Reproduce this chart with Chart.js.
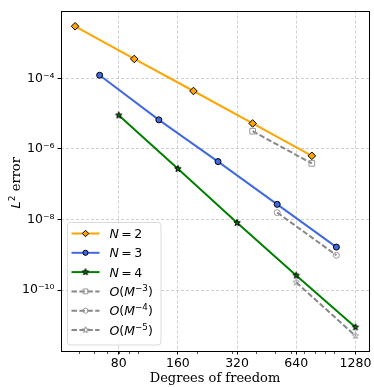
<!DOCTYPE html>
<html>
<head>
<meta charset="utf-8">
<script src="https://cdn.jsdelivr.net/npm/chart.js@4.4.0/dist/chart.umd.min.js"></script>
<style>
  html, body { margin: 0; padding: 0; background: #fff; }
  canvas { display: block; }
</style>
</head>
<body>
<canvas id="chart-err" width="374" height="387"></canvas>
<script>
  // values
  var dofN2 = [48, 96, 192, 384, 768];
  var errN2 = [3.0e-3, 3.56e-4, 4.4e-5, 5.3e-6, 6.4e-7];
  var dofN3 = [64, 128, 256, 512, 1024];
  var errN3 = [1.23e-4, 6.7e-6, 4.4e-7, 2.7e-8, 1.66e-9];
  var dofN4 = [80, 160, 320, 640, 1280];
  var errN4 = [9.0e-6, 2.75e-7, 8.1e-9, 2.6e-10, 8.9e-12];
  var dofRef3 = [384, 768];
  var errRef3 = [3.19e-6, 3.9e-7];
  var dofRef4 = [512, 1024];
  var errRef4 = [1.58e-8, 9.75e-10];
  var dofRef5 = [640, 1280];
  var errRef5 = [1.66e-10, 5.1e-12];

  var xTicks = [80, 160, 320, 640, 1280];
  var xMinorTicks = [50, 60, 70, 80, 90, 100, 200, 300, 400, 500, 600, 700, 800, 900, 1000];
  var yTicks = [1e-4, 1e-6, 1e-8, 1e-10];
  var yTickLabels = ['10\u207b\u2074', '10\u207b\u2076', '10\u207b\u2078', '10\u207b\u00b9\u2070'];

  // legend labels as math-like pieces: t = text, it = italic, sup = superscript
  var legendLabels = [
    [{t: 'N', it: true}, {t: '\u2009=\u20092'}],
    [{t: 'N', it: true}, {t: '\u2009=\u20093'}],
    [{t: 'N', it: true}, {t: '\u2009=\u20094'}],
    [{t: 'O', it: true}, {t: '('}, {t: 'M', it: true}, {t: '\u22123', sup: true}, {t: ')'}],
    [{t: 'O', it: true}, {t: '('}, {t: 'M', it: true}, {t: '\u22124', sup: true}, {t: ')'}],
    [{t: 'O', it: true}, {t: '('}, {t: 'M', it: true}, {t: '\u22125', sup: true}, {t: ')'}]
  ];

  function pts(xs, ys) {
    return xs.map(function (x, i) { return {x: x, y: ys[i]}; });
  }

  function makeStar(face, edge, r) {
    var c = document.createElement('canvas');
    var s = Math.ceil(2 * r + 3);
    c.width = s; c.height = s;
    var g = c.getContext('2d');
    g.beginPath();
    for (var k = 0; k < 10; k++) {
      var rr = k % 2 ? r * 0.42 : r;
      var a = -Math.PI / 2 + k * Math.PI / 5;
      g.lineTo(s / 2 + rr * Math.cos(a), s / 2 + rr * Math.sin(a));
    }
    g.closePath();
    g.fillStyle = face; g.fill();
    g.lineWidth = 1; g.strokeStyle = edge; g.stroke();
    return c;
  }

  var starGreen = makeStar('green', '#000', 3.4);
  var starGray = makeStar('rgba(0,0,0,0)', '#999', 3.4);

  function mainSet(label, data, color, style, r, order) {
    return {
      label: label, data: data, borderColor: color, borderWidth: 2, order: order,
      pointStyle: style, pointRadius: r, pointBackgroundColor: color,
      pointBorderColor: '#000', pointBorderWidth: 1, fill: false, tension: 0
    };
  }
  function refSet(label, data, style, r, order) {
    return {
      label: label, data: data, borderColor: '#888888', borderWidth: 2, borderDash: [5.5, 2.4], order: order,
      pointStyle: style, pointRadius: r, pointBackgroundColor: 'rgba(0,0,0,0)',
      pointBorderColor: '#999999', pointBorderWidth: 1, fill: false, tension: 0
    };
  }

  function drawRich(ctx, segs, x, y, size) {
    ctx.textBaseline = 'alphabetic';
    ctx.textAlign = 'left';
    ctx.fillStyle = '#000';
    segs.forEach(function (s) {
      var fs = s.sup ? size * 0.7 : size;
      ctx.font = (s.it ? 'italic ' : '') + fs + 'px "DejaVu Sans"';
      ctx.fillText(s.t, x, y - (s.sup ? size * 0.4 : 0));
      x += ctx.measureText(s.t).width;
    });
  }

  var extras = {
    id: 'extras',
    afterDraw: function (chart) {
      var ctx = chart.ctx;
      var ca = chart.chartArea;
      var xs = chart.scales.x;
      ctx.save();
      // axes frame
      ctx.strokeStyle = '#000';
      ctx.lineWidth = 1;
      ctx.strokeRect(Math.round(ca.left) + 0.5, Math.round(ca.top) + 0.5,
        Math.round(ca.right) - Math.round(ca.left), Math.round(ca.bottom) - Math.round(ca.top));
      // minor x ticks
      ctx.lineWidth = 0.7;
      xMinorTicks.forEach(function (v) {
        var px = Math.round(xs.getPixelForValue(v)) + 0.5;
        ctx.beginPath();
        ctx.moveTo(px, ca.bottom + 1);
        ctx.lineTo(px, ca.bottom + 3);
        ctx.stroke();
      });
      // legend
      var x0 = 67.5, y0 = 222.5;
      ctx.beginPath();
      ctx.roundRect(x0, y0, 93.5, 122.5, 3);
      ctx.fillStyle = 'rgba(255,255,255,0.85)';
      ctx.fill();
      ctx.strokeStyle = '#cccccc';
      ctx.stroke();
      chart.data.datasets.forEach(function (ds, i) {
        var y = 233.5 + i * 19.3;
        ctx.beginPath();
        ctx.setLineDash(ds.borderDash || []);
        ctx.strokeStyle = ds.borderColor;
        ctx.lineWidth = ds.borderWidth;
        ctx.moveTo(71.5, y);
        ctx.lineTo(99.5, y);
        ctx.stroke();
        ctx.setLineDash([]);
        ctx.fillStyle = ds.pointBackgroundColor;
        ctx.strokeStyle = ds.pointBorderColor;
        ctx.lineWidth = ds.pointBorderWidth;
        Chart.helpers.drawPoint(ctx, {pointStyle: ds.pointStyle, radius: ds.pointRadius * 0.85,
          rotation: 0, borderWidth: ds.pointBorderWidth}, 85.5, y);
        drawRich(ctx, legendLabels[i], 109.5, y + 4.5, 12.5);
      });
      // y axis title: L^2 error
      ctx.translate(0, (ca.top + ca.bottom) / 2 + 2);
      ctx.rotate(-Math.PI / 2);
      ctx.fillStyle = '#000';
      ctx.textBaseline = 'alphabetic';
      var parts = [
        {t: 'L', f: 'italic 13px "DejaVu Sans"', dy: 0},
        {t: '2', f: '9px "DejaVu Sans"', dy: -5.5},
        {t: ' error', f: '13px "DejaVu Serif"', dy: 0}
      ];
      var total = 0;
      parts.forEach(function (p) { ctx.font = p.f; p.w = ctx.measureText(p.t).width; total += p.w; });
      var u = -total / 2;
      parts.forEach(function (p) {
        ctx.font = p.f;
        ctx.fillText(p.t, u, 20 + p.dy);
        u += p.w;
      });
      ctx.restore();
    }
  };

  var gridOpts = { color: '#c4c4c4', lineWidth: 0.8, tickLength: 3.5,
    tickColor: '#000', tickWidth: 1, tickBorderDash: [] };

  var ctxErr = document.getElementById('chart-err');
  var chartErr = new Chart(ctxErr, {
    type: 'line',
    data: {
      datasets: [
        mainSet('N = 2', pts(dofN2, errN2), 'orange', 'rectRot', 3.8, 6),
        mainSet('N = 3', pts(dofN3, errN3), 'royalblue', 'circle', 3, 5),
        mainSet('N = 4', pts(dofN4, errN4), 'green', starGreen, 3.4, 4),
        refSet('O(M^-3)', pts(dofRef3, errRef3), 'rect', 4, 3),
        refSet('O(M^-4)', pts(dofRef4, errRef4), 'circle', 3, 2),
        refSet('O(M^-5)', pts(dofRef5, errRef5), starGray, 3.4, 1)
      ]
    },
    options: {
      responsive: false,
      animation: false,
      layout: { padding: { top: 0, right: 2, left: 0, bottom: 0 } },
      plugins: { legend: { display: false }, tooltip: { enabled: false } },
      scales: {
        x: {
          type: 'logarithmic', min: 40.7, max: 1500, bounds: 'data',
          afterBuildTicks: function (s) { s.ticks = xTicks.map(function (v) { return {value: v}; }); },
          afterFit: function (s) { s.height = 36; },
          ticks: {
            callback: function (v) { return String(v); },
            autoSkip: false, maxRotation: 0, padding: 2, color: '#000',
            font: { family: 'DejaVu Sans', size: 12.5 }
          },
          grid: gridOpts,
          border: { display: false, dash: [3, 2] },
          title: { display: true, text: 'Degrees of freedom', color: '#000',
            font: { family: 'DejaVu Serif', size: 13 }, padding: { top: 0, bottom: 1 } }
        },
        y: {
          type: 'logarithmic', min: 1.89e-12, max: 8.4e-3, bounds: 'data',
          afterBuildTicks: function (s) { s.ticks = yTicks.map(function (v) { return {value: v}; }); },
          afterFit: function (s) { s.width = 61; },
          ticks: {
            callback: function (v) { return yTickLabels[yTicks.indexOf(v)]; },
            autoSkip: false, padding: 3, color: '#000',
            font: { family: 'DejaVu Sans', size: 12.5 }
          },
          grid: gridOpts,
          border: { display: false, dash: [3, 2] }
        }
      }
    },
    plugins: [extras]
  });
</script>
</body>
</html>
